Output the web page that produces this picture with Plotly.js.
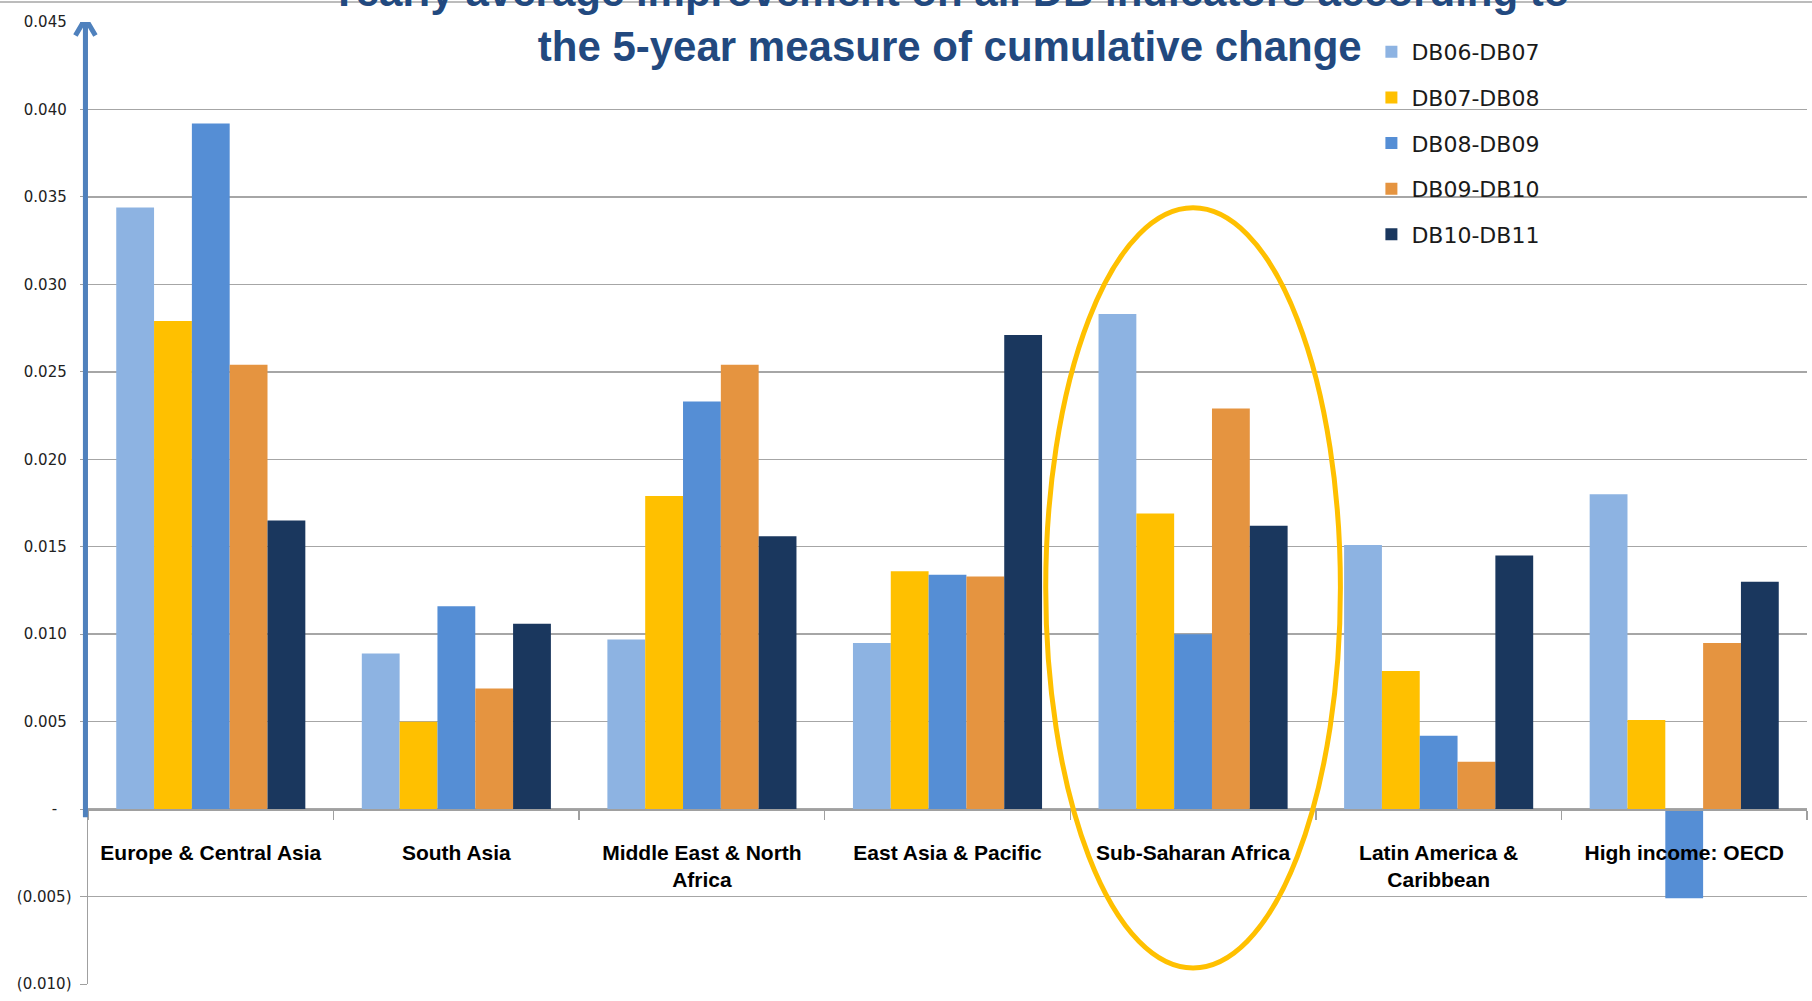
<!DOCTYPE html>
<html>
<head>
<meta charset="utf-8">
<script src="https://cdn.plot.ly/plotly-3.0.1.min.js"></script>
<style>html,body{margin:0;padding:0;background:#fff;}#chart{width:1812px;height:1001px;}</style>
</head>
<body>
<div id="chart"></div>
<script>
// ---- data ----
var regions = ["Europe & Central Asia", "South Asia", "Middle East & North Africa", "East Asia & Pacific", "Sub-Saharan Africa", "Latin America & Caribbean", "High income: OECD"];
var regionLabels = ["Europe & Central Asia", "South Asia", "Middle East & North<br>Africa", "East Asia & Pacific", "Sub-Saharan Africa", "Latin America &<br>Caribbean", "High income: OECD"];
var seriesNames = ["DB06-DB07", "DB07-DB08", "DB08-DB09", "DB09-DB10", "DB10-DB11"];
var db0607 = [0.0344, 0.0089, 0.0097, 0.0095, 0.0283, 0.0151, 0.0180];
var db0708 = [0.0279, 0.0050, 0.0179, 0.0136, 0.0169, 0.0079, 0.0051];
var db0809 = [0.0392, 0.0116, 0.0233, 0.0134, 0.0100, 0.0042, -0.0051];
var db0910 = [0.0254, 0.0069, 0.0254, 0.0133, 0.0229, 0.0027, 0.0095];
var db1011 = [0.0165, 0.0106, 0.0156, 0.0271, 0.0162, 0.0145, 0.0130];
var yTickVals = [-0.010, -0.005, 0, 0.005, 0.010, 0.015, 0.020, 0.025, 0.030, 0.035, 0.040, 0.045];
var yTickText = ["(0.010)", "(0.005)", "-\u00a0\u00a0\u00a0", "0.005\u00a0", "0.010\u00a0", "0.015\u00a0", "0.020\u00a0", "0.025\u00a0", "0.030\u00a0", "0.035\u00a0", "0.040\u00a0", "0.045\u00a0"];
var titleText = "Yearly average improvement on all DB indicators according to<br>the 5-year measure of cumulative change";

var colors = ["#8DB3E2", "#FFC000", "#558ED5", "#E59440", "#1A375E"];
var allSeries = [db0607, db0708, db0809, db0910, db1011];

var traces = allSeries.map(function (vals, i) {
  return {
    type: "bar",
    name: seriesNames[i],
    x: regions,
    y: vals,
    marker: { color: colors[i], line: { width: 0 } },
    legendgroup: "g" + i,
    hoverinfo: "x+y+name"
  };
});

var layout = {
  width: 1812,
  height: 1001,
  paper_bgcolor: "#ffffff",
  plot_bgcolor: "#ffffff",
  margin: { l: 88, r: 5, t: 22, b: 17, pad: 0 },
  barmode: "group",
  bargap: 0.23,
  bargroupgap: 0,
  title: {
    text: titleText,
    x: 0.5013, xref: "paper", xanchor: "center",
    y: 0.994, yref: "container", yanchor: "middle",
    font: { family: "Liberation Sans, Arial, sans-serif", size: 42, color: "#22497F", weight: "bold" }
  },
  xaxis: {
    type: "category",
    categoryorder: "array",
    categoryarray: regions,
    tickvals: regions,
    ticktext: regionLabels,
    anchor: "free",
    position: 0.010 / 0.055,
    showline: true,
    linecolor: "#a0a0a0",
    linewidth: 1.5,
    ticks: "outside",
    tickson: "boundaries",
    ticklen: 9,
    tickcolor: "#a0a0a0",
    tickwidth: 1.5,
    showgrid: false,
    zeroline: false,
    ticklabelstandoff: 24,
    tickfont: { family: "Liberation Sans, Arial, sans-serif", size: 21, color: "#000000", weight: "bold" },
    fixedrange: true
  },
  yaxis: {
    range: [-0.010, 0.045],
    tickvals: yTickVals,
    ticktext: yTickText,
    showgrid: true,
    gridcolor: "#a6a6a6",
    gridwidth: 1.5,
    zeroline: false,
    showline: true,
    linecolor: "#a0a0a0",
    linewidth: 1.5,
    ticks: "outside",
    ticklen: 7,
    tickcolor: "#a0a0a0",
    ticklabelstandoff: 5,
    tickfont: { family: "DejaVu Sans, sans-serif", size: 15, color: "#222222" },
    fixedrange: true
  },
  showlegend: true,
  legend: {
    x: 0.7466, xanchor: "left",
    y: 0.9906, yanchor: "top",
    bgcolor: "rgba(255,255,255,0)",
    traceorder: "grouped",
    tracegroupgap: 14,
    font: { family: "DejaVu Sans, sans-serif", size: 22, color: "#1a1a1a" }
  },
  shapes: [
    // slide border line at the very top
    { type: "line", xref: "paper", yref: "paper", x0: -0.06, x1: 1.01, y0: 1 + 20 / 962, y1: 1 + 20 / 962,
      line: { color: "#a6a6a6", width: 1.5 }, layer: "below" },
    // highlight ellipse around Sub-Saharan Africa
    { type: "circle", xref: "x", yref: "y", x0: 3.4, x1: 4.6, y0: -0.00908, y1: 0.03438,
      line: { color: "#FFC000", width: 5 }, fillcolor: "rgba(0,0,0,0)", layer: "above" },
    // blue arrow shaft along the y axis
    { type: "line", xref: "paper", yref: "y", x0: -0.0015, x1: -0.0015, y0: -0.00046, y1: 0.0451,
      line: { color: "#4F81BD", width: 5 }, layer: "above" },
    // arrow head
    { type: "path", xref: "paper", yref: "y", xsizemode: "pixel", ysizemode: "pixel",
      xanchor: -0.0015, yanchor: 0.0452,
      path: "M -10,-17 L 0,0 L 10,-17",
      line: { color: "#4F81BD", width: 5 }, fillcolor: "rgba(0,0,0,0)", layer: "above" }
  ]
};

Plotly.newPlot("chart", traces, layout, { displayModeBar: false, staticPlot: true });
</script>
</body>
</html>
